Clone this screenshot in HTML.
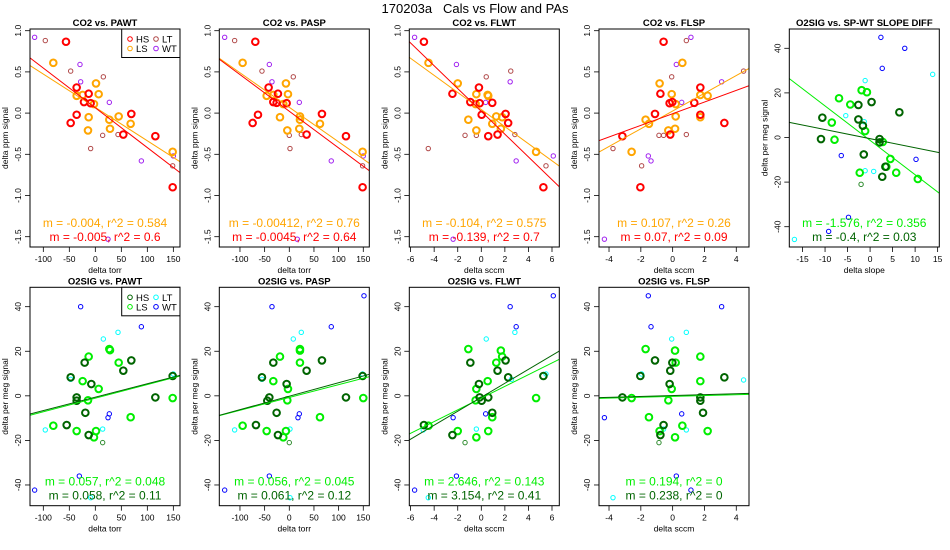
<!DOCTYPE html>
<html><head><meta charset="utf-8"><style>
html,body{margin:0;padding:0;background:#fff;}
svg{display:block;font-family:"Liberation Sans",Arial,sans-serif;}
</style></head><body>
<svg id="c" width="950" height="550" viewBox="0 0 950 550">
<text x="475" y="13" font-size="13" text-anchor="middle" style="white-space:pre">170203a   Cals vs Flow and PAs</text>
</svg>
<script>
// ---- data ----
const co2PawtHS=[[-56.4,0.866],[-35.9,0.31],[-12.8,0.235],[-21.8,0.134],[-9,0.12],[-35.9,-0.02],[-47.4,-0.12],[53.8,-0.26],[69.2,-0.01],[115.4,-0.28],[148.7,-0.9]];
const co2PawtLS=[[-80.8,0.61],[1.3,0.36],[6.4,0.23],[-24.4,0.22],[-35.9,0.21],[-2.6,0.11],[-12.8,-0.05],[26.9,-0.08],[44.9,-0.04],[67.9,-0.13],[28.2,-0.19],[-14.1,-0.21],[148.7,-0.47]];
const co2PawtLT=[[-96.2,0.88],[-47.4,0.51],[15.4,0.44],[-9,-0.43],[14.1,-0.27],[43.6,-0.26],[148.7,-0.64]];
const co2PawtWT=[[-116.7,0.92],[-29.5,0.59],[-28.2,0.38],[26.9,0.13],[88.5,-0.58],[150,-0.52],[24.4,-1.53]];
const co2PaspHS=[[-68.9,0.866],[-41.9,0.31],[-23,0.235],[-32.4,0.134],[-25.7,0.125],[-5.4,0.12],[-63.5,-0.02],[-74.3,-0.12],[35.1,-0.26],[66.2,-0.01],[114.9,-0.28],[148.6,-0.9]];
const co2PaspLS=[[-94.6,0.61],[-6.8,0.36],[-2.7,0.23],[-32.4,0.22],[-45.9,0.21],[-12.2,0.11],[-18.9,-0.05],[21.6,-0.08],[21.6,-0.04],[62.2,-0.13],[20.3,-0.19],[-4,-0.21],[148.6,-0.47]];
const co2PaspLT=[[-110.8,0.88],[-55.4,0.51],[8.1,0.44],[1.4,-0.43],[0,-0.27],[24.3,-0.26],[148.6,-0.64]];
const co2PaspWT=[[-131,0.92],[-40.5,0.59],[-35.1,0.38],[20.3,0.13],[85.1,-0.58],[150,-0.52],[16.2,-1.53]];
const co2FlwtHS=[[-4.87,0.866],[-0.2,0.31],[-2.45,0.235],[-0.93,0.134],[-0.14,0.12],[0.93,0.125],[0.03,-0.02],[2.06,-0.01],[2.28,-0.12],[0.59,-0.28],[1.38,-0.26],[5.27,-0.9]];
const co2FlwtLS=[[-4.48,0.61],[-2,0.36],[-0.42,0.23],[0.54,0.22],[0.59,0.21],[-0.48,0.11],[-1.1,-0.08],[1.27,-0.04],[1.77,-0.05],[0.93,-0.13],[1.66,-0.19],[-0.42,-0.21],[4.65,-0.47]];
const co2FlwtLT=[[-4.5,-0.43],[2.5,0.51],[0.42,0.44],[-1.38,-0.27],[-0.42,-0.27],[2.85,-0.26],[5.49,-0.64]];
const co2FlwtWT=[[-5.66,0.92],[-2.11,0.59],[2.45,0.38],[0.37,0.13],[2.96,-0.58],[6.11,-0.52],[-2.39,-1.53]];
const co2FlspHS=[[-0.57,0.866],[1.74,0.31],[-0.77,0.235],[-0.02,0.134],[-0.19,0.12],[1.36,0.125],[-1.11,-0.01],[1.74,-0.02],[3.25,-0.12],[-0.15,-0.26],[-3.16,-0.28],[-2.03,-0.9]];
const co2FlspLS=[[0.61,0.61],[-0.82,0.36],[-0.06,0.23],[1.74,0.22],[2.2,0.21],[0.19,0.11],[0.19,-0.04],[-1.7,-0.08],[1.74,-0.05],[-1.49,-0.13],[0.15,-0.19],[-0.27,-0.21],[-2.58,-0.47]];
const co2FlspLT=[[-3.75,-0.43],[4.46,0.51],[-0.06,0.44],[-0.86,-0.27],[-0.57,-0.27],[0.86,-0.26],[-1.95,-0.64],[0.86,0.88]];
const co2FlspWT=[[1.15,0.92],[0.23,0.59],[3.08,0.38],[0.57,0.13],[-1.36,-0.58],[-1.53,-0.52],[-4.29,-1.53]];
const o2SlopeHS=[[-10.6,8.9],[-10.9,-0.7],[-2.6,14.6],[0.33,15.9],[-2.6,8.1],[-1.6,5.3],[-1.4,-7.6],[2.1,-0.7],[2.1,-2.2],[2.7,-17.6],[3.4,-13.1],[6.5,11.3]];
const o2SlopeLS=[[-6.9,17.6],[-4.4,14.8],[-1.88,21.2],[-0.7,20.3],[-1.1,2.9],[-8.5,6.7],[-7.9,-1],[2.8,-2],[4.5,-9.6],[3.6,-13.1],[-2.3,-15.8],[5.8,-15.8],[10.6,-18.6]];
const o2SlopeLT=[[-5.4,9.8],[-1.3,7.1],[-1.1,25.5],[-1.1,-14.9],[0.8,-15.2],[13.9,28.3],[-16.8,-45.7]];
const o2SlopeXX=[[-2,-21]];
const o2SlopeWT=[[2.4,44.9],[7.7,40],[2.7,31],[-6.4,-8.1],[10.2,-9.8],[-4.8,-35.8],[-9.2,-42.1]];
const o2PawtHS=[[-47.4,8.3],[-20.5,14.9],[-7.7,5.3],[-35.9,-0.7],[-35.9,-2.2],[-19.2,-7.6],[-55.1,-13.1],[-12.8,-17.6],[53.8,11.3],[69.2,15.9],[115.4,-0.7],[148.7,8.9]];
const o2PawtLS=[[-80.8,-13.4],[-35.9,-15.8],[-24.4,6.6],[-12.8,17.6],[-14.1,-2],[6.4,3.1],[26.9,21],[28.2,20.5],[44.9,14.9],[67.9,-9.6],[1.3,-15.8],[-2.6,-18.6],[148.7,-1]];
const o2PawtLT=[[-96.2,-15.3],[-47.4,7.4],[15.4,25.5],[43.6,28.5],[14.1,-14.9],[150,9.8],[-9,-45.7]];
const o2PawtXX=[[14.1,-21]];
const o2PawtWT=[[-28.2,40],[88.5,31],[26.9,-8.1],[24.4,-9.8],[-30.8,-36],[-116.7,-42.3]];
const o2PaspHS=[[-55.4,8.3],[-32.4,14.9],[-5.4,5.3],[-40.5,-0.7],[-44.6,-2.2],[-25.7,-7.6],[-67.6,-13.1],[-23,-17.6],[35.1,11.3],[66.2,15.9],[114.9,-0.7],[148.6,8.9]];
const o2PaspLS=[[-94.6,-13.4],[-45.9,-15.8],[-32.4,6.6],[-18.9,17.6],[-4,-2],[-2.7,3.1],[21.6,21],[21.6,20.3],[21.6,14.9],[62.2,-9.6],[-6.8,-15.8],[-12.2,-18.6],[150,-1]];
const o2PaspLT=[[-110.8,-15.3],[-55.4,7.4],[8.1,25.5],[24.3,28.5],[1.4,-14.9],[148.6,9.8],[1.4,-45.7]];
const o2PaspXX=[[0,-21]];
const o2PaspWT=[[-35.1,40],[85.1,31],[20.3,-8.1],[17.6,-9.8],[-40.5,-36],[-131,-42.3],[151.4,44.9]];
const o2FlwtHS=[[-4.87,-13.1],[-2.45,-17.6],[-0.93,14.9],[-0.2,5.3],[-0.14,-0.7],[0.03,-2.2],[0.59,-0.7],[0.93,-7.6],[1.38,11.3],[2.06,15.9],[2.28,8.3],[5.27,8.9]];
const o2FlwtLS=[[-4.48,-13.4],[-2,-15.8],[-1.1,21],[-0.42,3.1],[-0.48,-2],[-0.42,-18.6],[0.54,6.6],[0.59,-15.8],[1.27,14.9],[1.66,20.3],[1.77,17.6],[0.93,-9.6],[4.65,-1]];
const o2FlwtLT=[[-4.93,-15.3],[-0.42,-14.9],[0.42,25.5],[2.85,28.5],[2.56,7.4],[5.49,9.8],[-4.5,-45.7]];
const o2FlwtXX=[[-1.38,-21]];
const o2FlwtWT=[[-5.66,-42.3],[-2.39,-9.8],[0.37,-8.1],[2.45,40],[2.96,31],[-2.11,-36],[6.11,44.9]];
const o2FlspHS=[[-3.16,-0.7],[-2.03,8.9],[-1.11,15.9],[-0.57,-13.1],[-0.77,-17.6],[-0.15,11.3],[-0.19,5.3],[-0.02,14.9],[1.74,-0.7],[1.74,-2.2],[1.91,-7.6],[3.25,8.3]];
const o2FlspLS=[[-2.58,-1],[-1.7,21],[-1.49,-9.6],[-0.82,-15.8],[-0.27,-2],[-0.06,3.1],[0.15,20.3],[0.19,14.9],[0.15,-18.6],[0.61,-13.4],[1.74,17.6],[1.74,6.6],[2.2,-15.8]];
const o2FlspLT=[[-1.95,9.8],[-0.06,25.5],[0.86,28.5],[0.86,-15.3],[-0.57,-14.9],[4.46,7.1],[-3.75,-45.7]];
const o2FlspXX=[[-0.86,-21]];
const o2FlspWT=[[-1.53,44.9],[-1.36,31],[3.08,40],[-4.29,-9.8],[0.57,-8.1],[0.23,-36],[1.15,-42.3]];
// fit lines [slope, intercept]
const fitCo2Pawt=[[-0.00405,0.069],[-0.00483,0.064]];
const fitCo2Pasp=[[-0.00419,0.07],[-0.00445,0.022]];
const fitCo2Flwt=[[-0.1036,0.043],[-0.1383,0.021]];
const fitCo2Flsp=[[0.1076,0.025],[0.0708,-0.007]];
const fitO2Slope=[[-1.543,-1.28],[-0.408,-0.52]];
const fitO2Pawt=[[0.0612,-1.06],[0.0602,-0.59]];
const fitO2Pasp=[[0.0575,-0.74],[0.0605,-0.16]];
const fitO2Flwt=[[2.63,-1.03],[3.135,-0.65]];
const fitO2Flsp=[[0.19,-0.24],[0.206,0.13]];
const statsCo2Pawt=["m = -0.004, r^2 = 0.584","m = -0.005, r^2 = 0.6"];
const statsCo2Pasp=["m = -0.00412, r^2 = 0.76","m = -0.0045, r^2 = 0.64"];
const statsCo2Flwt=["m = -0.104, r^2 = 0.575","m = -0.139, r^2 = 0.7"];
const statsCo2Flsp=["m = 0.107, r^2 = 0.26","m = 0.07, r^2 = 0.09"];
const statsO2Slope=["m = -1.576, r^2 = 0.356","m = -0.4, r^2 = 0.03"];
const statsO2Pawt=["m = 0.057, r^2 = 0.048","m = 0.058, r^2 = 0.11"];
const statsO2Pasp=["m = 0.056, r^2 = 0.045","m = 0.061, r^2 = 0.12"];
const statsO2Flwt=["m = 2.646, r^2 = 0.143","m = 3.154, r^2 = 0.41"];
const statsO2Flsp=["m = 0.194, r^2 = 0","m = 0.238, r^2 = 0"];
const ticksTorr=[-100,-50,0,50,100,150];
const ticksFlwt=[-6,-4,-2,0,2,4,6];
const ticksFlsp=[-4,-2,0,2,4];
const ticksSlope=[-15,-10,-5,0,5,10,15];
const ticksCo2=["1.0","0.5","0.0","-0.5","-1.0","-1.5"];
const ticksO2=["40","20","0","-20","-40"];

// ---- drawing ----
const NS="http://www.w3.org/2000/svg";
const svg=document.getElementById('c');
function mk(tag,attrs,parent){const e=document.createElementNS(NS,tag);for(const k in attrs)e.setAttribute(k,attrs[k]);(parent||svg).appendChild(e);return e;}
const CO2C={HS:'#ff0000',LS:'#ffa500',LT:'#b04848',WT:'#a020f0',A:'#ffa500',B:'#ff0000'};
const O2C={HS:'#006400',LS:'#00ee00',LT:'#00ffff',WT:'#0000ff',XX:'#2e8b2e',A:'#00ee00',B:'#006400'};
const colsX=[30,219.3,409.3,599,789.3];
const panels=[
 {name:'co2-vs-pawt',title:'CO2 vs. PAWT',col:0,row:0,xd:[-125.6,162.8],yd:[1.0206,-1.625],xt:ticksTorr,yt:ticksCo2,xl:'delta torr',yl:'delta ppm signal',s:{HS:co2PawtHS,LS:co2PawtLS,LT:co2PawtLT,WT:co2PawtWT},fit:fitCo2Pawt,st:statsCo2Pawt,c:CO2C,leg:true},
 {name:'co2-vs-pasp',title:'CO2 vs. PASP',col:1,row:0,xd:[-141.9,162.2],yd:[1.0206,-1.625],xt:ticksTorr,yt:ticksCo2,xl:'delta torr',yl:'delta ppm signal',s:{HS:co2PaspHS,LS:co2PaspLS,LT:co2PaspLT,WT:co2PaspWT},fit:fitCo2Pasp,st:statsCo2Pasp,c:CO2C},
 {name:'co2-vs-flwt',title:'CO2 vs. FLWT',col:2,row:0,xd:[-6.11,6.62],yd:[1.0206,-1.625],xt:ticksFlwt,yt:ticksCo2,xl:'delta sccm',yl:'delta ppm signal',s:{HS:co2FlwtHS,LS:co2FlwtLS,LT:co2FlwtLT,WT:co2FlwtWT},fit:fitCo2Flwt,st:statsCo2Flwt,c:CO2C},
 {name:'co2-vs-flsp',title:'CO2 vs. FLSP',col:3,row:0,xd:[-4.63,4.8],yd:[1.0206,-1.625],xt:ticksFlsp,yt:ticksCo2,xl:'delta sccm',yl:'delta ppm signal',s:{HS:co2FlspHS,LS:co2FlspLS,LT:co2FlspLT,WT:co2FlspWT},fit:fitCo2Flsp,st:statsCo2Flsp,c:CO2C},
 {name:'o2sig-vs-slope-diff',title:'O2SIG vs. SP-WT SLOPE DIFF',col:4,row:0,xd:[-17.94,15.37],yd:[48.65,-49.1],xt:ticksSlope,yt:ticksO2,xl:'delta slope',yl:'delta per meg signal',s:{HS:o2SlopeHS,LS:o2SlopeLS,LT:o2SlopeLT,XX:o2SlopeXX,WT:o2SlopeWT},fit:fitO2Slope,st:statsO2Slope,c:O2C},
 {name:'o2sig-vs-pawt',title:'O2SIG vs. PAWT',col:0,row:1,xd:[-125.6,162.8],yd:[48.7,-49.3],xt:ticksTorr,yt:ticksO2,xl:'delta torr',yl:'delta per meg signal',s:{HS:o2PawtHS,LS:o2PawtLS,LT:o2PawtLT,XX:o2PawtXX,WT:o2PawtWT},fit:fitO2Pawt,st:statsO2Pawt,c:O2C,leg:true},
 {name:'o2sig-vs-pasp',title:'O2SIG vs. PASP',col:1,row:1,xd:[-141.9,162.2],yd:[48.7,-49.3],xt:ticksTorr,yt:ticksO2,xl:'delta torr',yl:'delta per meg signal',s:{HS:o2PaspHS,LS:o2PaspLS,LT:o2PaspLT,XX:o2PaspXX,WT:o2PaspWT},fit:fitO2Pasp,st:statsO2Pasp,c:O2C},
 {name:'o2sig-vs-flwt',title:'O2SIG vs. FLWT',col:2,row:1,xd:[-6.11,6.62],yd:[48.7,-49.3],xt:ticksFlwt,yt:ticksO2,xl:'delta sccm',yl:'delta per meg signal',s:{HS:o2FlwtHS,LS:o2FlwtLS,LT:o2FlwtLT,XX:o2FlwtXX,WT:o2FlwtWT},fit:fitO2Flwt,st:statsO2Flwt,c:O2C},
 {name:'o2sig-vs-flsp',title:'O2SIG vs. FLSP',col:3,row:1,xd:[-4.63,4.8],yd:[48.7,-49.3],xt:ticksFlsp,yt:ticksO2,xl:'delta sccm',yl:'delta per meg signal',s:{HS:o2FlspHS,LS:o2FlspLS,LT:o2FlspLT,XX:o2FlspXX,WT:o2FlspWT},fit:fitO2Flsp,st:statsO2Flsp,c:O2C}
];
panels.forEach((p,pi)=>{
 const L=colsX[p.col],W=150,T=p.row?287.3:29,B=p.row?505.7:247,H=B-T;
 const sx=v=>L+(v-p.xd[0])/(p.xd[1]-p.xd[0])*W;
 const sy=v=>T+(v-p.yd[0])/(p.yd[1]-p.yd[0])*H;
 const g=mk('g',{});
 
 
 const cid='clip'+pi;
 const cp=mk('clipPath',{id:cid},g);mk('rect',{x:L,y:T,width:W,height:H},cp);
 const tt=mk('text',{x:L+W/2,y:T-3,'font-size':9.5,'font-weight':'bold','text-anchor':'middle'},g);tt.textContent=p.title;
 
 
 p.xt.forEach(v=>{const x=sx(v);
  const tl=mk('line',{x1:x,x2:x,y1:B,y2:B+5,stroke:'#000','stroke-width':0.8},g);
  
  
  const t=mk('text',{x:x,y:B+15,'font-size':8.5,'text-anchor':'middle'},g);t.textContent=v;
  
  });
 p.yt.forEach(s=>{const y=sy(parseFloat(s));
  const tl=mk('line',{x1:L-5,x2:L,y1:y,y2:y,stroke:'#000','stroke-width':0.8},g);
  
  
  const t=mk('text',{x:0,y:0,'font-size':8.5,'text-anchor':'middle',transform:`translate(${L-9},${y}) rotate(-90)`},g);t.textContent=s;
  
  });
 const xl=mk('text',{x:L+W/2,y:B+26,'font-size':8.5,'text-anchor':'middle'},g);xl.textContent=p.xl;
 
 
 const yl=mk('text',{x:0,y:0,'font-size':8.5,'text-anchor':'middle',transform:`translate(${L-22},${(T+B)/2}) rotate(-90)`},g);yl.textContent=p.yl;
 
 
 const inner=mk('g',{'clip-path':`url(#${cid})`},g);
 ['LT','XX','WT','LS','HS'].forEach(k=>{const arr=p.s[k];if(!arr)return;const thick=(k==='HS'||k==='LS');
  arr.forEach(d=>{const c=mk('circle',{cx:sx(d[0]),cy:sy(d[1]),r:thick?3.3:2.2,fill:'none',stroke:p.c[k],'stroke-width':thick?2:1},inner);
   
   });});
 p.fit.forEach((f,i)=>{const x0=p.xd[0],x1=p.xd[1];
  const ln=mk('line',{x1:sx(x0),y1:sy(f[0]*x0+f[1]),x2:sx(x1),y2:sy(f[0]*x1+f[1]),stroke:i?p.c.B:p.c.A,'stroke-width':1},inner);
  
  });
 p.st.forEach((s,i)=>{const t=mk('text',{x:L+W/2,y:B-20+i*14,'font-size':12,'text-anchor':'middle',fill:i?p.c.B:p.c.A},g);t.textContent=s;
  
  });
 const bx=mk('rect',{x:L,y:T,width:W,height:H,fill:'none',stroke:'#000','stroke-width':1},g);
 
 
 if(p.leg){
  const lg=mk('g',{},g);
  
  
  mk('rect',{x:L+91.7,y:T,width:58.3,height:28.5,fill:'#fff',stroke:'#000','stroke-width':1},lg);
  [['HS',0,0],['LS',0,1],['LT',1,0],['WT',1,1]].forEach(e=>{const cx=L+100+e[1]*26,cy=T+10+e[2]*9.5;
   const c=mk('circle',{cx:cx,cy:cy,r:2.3,fill:'none',stroke:p.c[e[0]],'stroke-width':1},lg);
   
   
   const t=mk('text',{x:cx+6,y:cy+3.5,'font-size':9.5},lg);t.textContent=e[0];
   
   });
 }
});
</script>
</body></html>
